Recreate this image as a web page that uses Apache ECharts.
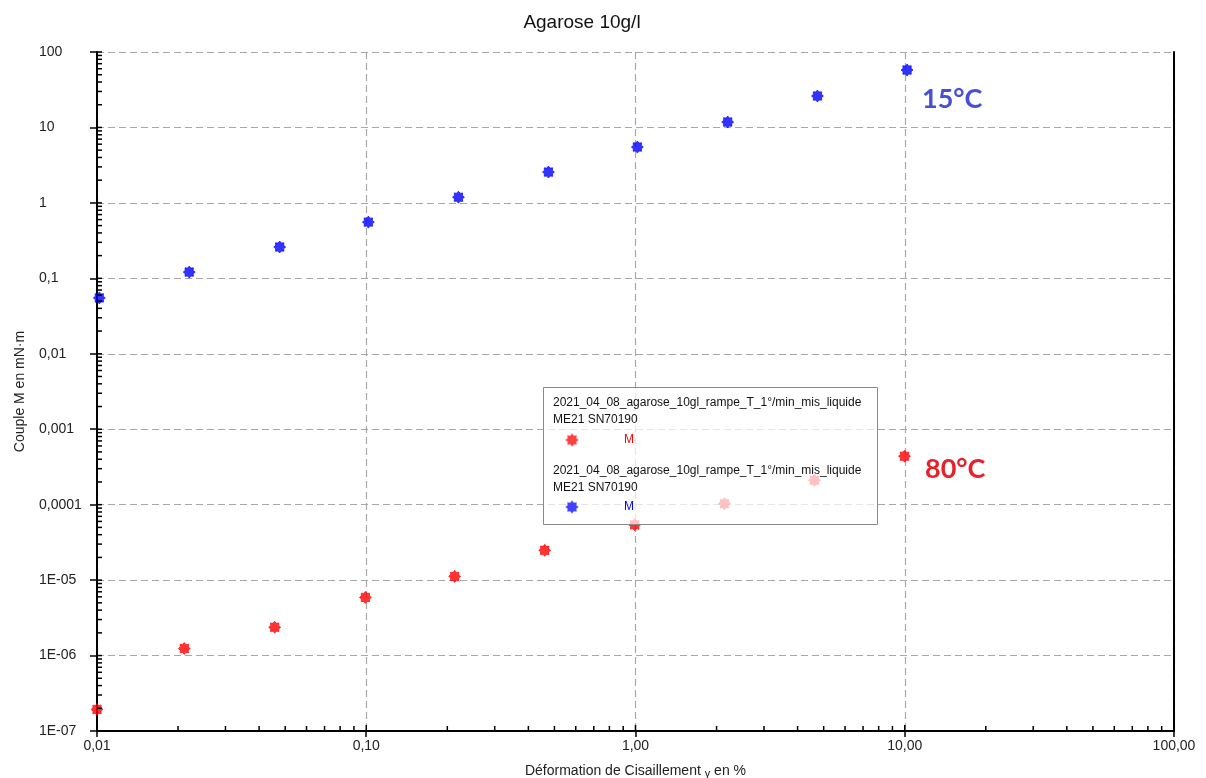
<!DOCTYPE html>
<html>
<head>
<meta charset="utf-8">
<script src="https://cdn.jsdelivr.net/npm/echarts@6/dist/echarts.min.js"></script>
<style>html,body{margin:0;padding:0;background:#fff}#c{width:1206px;height:778px}</style>
</head>
<body>
<div id="c"></div>
<script>
// ---- data ----
const strain15 = [0.0102, 0.022, 0.0477, 0.1018, 0.22, 0.475, 1.016, 2.2, 4.74, 10.2];
const torque15 = [0.055, 0.121, 0.26, 0.556, 1.19, 2.56, 5.5, 11.8, 26.1, 57.7];
const strain80 = [0.01, 0.0211, 0.0457, 0.0993, 0.213, 0.46, 0.993, 2.14, 4.62, 9.98];
const torque80 = [1.93e-7, 1.24e-6, 2.37e-6, 5.9e-6, 1.12e-5, 2.48e-5, 5.4e-5, 1.03e-4, 2.1e-4, 4.39e-4];
const xTickLabels = ['0,01', '0,10', '1,00', '10,00', '100,00'];   // 1e-2 .. 1e2
const yTickLabels = ['1E-07', '1E-06', '1E-05', '0,0001', '0,001', '0,01', '0,1', '1', '10', '100']; // 1e-7 .. 1e2
const legendName = '2021_04_08_agarose_10gl_rampe_T_1°/min_mis_liquide';
const legendSub = 'ME21 SN70190';

const X_MIN = 0.01, X_MAX = 100, Y_MIN = 1e-7, Y_MAX = 100;

function logTicks(minExp, maxExp) {
  const major = [], minor = [];
  for (let e = minExp; e <= maxExp; e++) {
    major.push(Math.pow(10, e));
    if (e < maxExp) for (let k = 2; k <= 9; k++) minor.push(k * Math.pow(10, e));
  }
  return { major, minor };
}
const xt = logTicks(-2, 2), yt = logTicks(-7, 2);

function starPoints(cx, cy, R) {
  const pts = [];
  for (let i = 0; i < 16; i++) {
    const a = i * Math.PI / 8 - Math.PI / 2;
    const r = i % 2 === 0 ? R : R * 0.72;
    pts.push([cx + r * Math.cos(a), cy + r * Math.sin(a)]);
  }
  return pts;
}
const STAR = 'path://' + starPoints(10, 10, 10).map((p, i) => (i ? 'L' : 'M') + p[0].toFixed(2) + ' ' + p[1].toFixed(2)).join(' ') + ' Z';

const FONT = 'Liberation Sans, Arial, sans-serif';
const chart = echarts.init(document.getElementById('c'));

function xLabel(v) { return xTickLabels[Math.round(Math.log10(v)) + 2] || ''; }
function yLabel(v) { return yTickLabels[Math.round(Math.log10(v)) + 7] || ''; }

function tickItemX(len) {
  return function (params, api) {
    const p = api.coord([api.value(0), Y_MIN]);
    return { type: 'line', shape: { x1: p[0], y1: p[1], x2: p[0], y2: p[1] - len },
      style: { stroke: '#000', lineWidth: 1.5 } };
  };
}
function tickItemY(len) {
  return function (params, api) {
    const p = api.coord([X_MIN, api.value(0)]);
    return { type: 'line', shape: { x1: p[0], y1: p[1], x2: p[0] + len, y2: p[1] },
      style: { stroke: '#000', lineWidth: 1.5 } };
  };
}

const LZ = 100;
const option = {
  backgroundColor: '#fff',
  animation: false,
  textStyle: { fontFamily: FONT },
  grid: { left: 97, right: 32, top: 52, bottom: 47, containLabel: false, outerBoundsMode: 'none' },
  xAxis: {
    type: 'log', logBase: 10, min: X_MIN, max: X_MAX, interval: 1,
    name: '{a|Déformation de Cisaillement }{g|γ}{a| en %}',
    nameLocation: 'middle', nameGap: 33,
    nameTextStyle: { rich: { a: { fontSize: 14, color: '#222', fontFamily: FONT }, g: { fontSize: 11, color: '#222', fontFamily: FONT, padding: [4, 0, 0, 0] } } },
    axisLine: { show: true, lineStyle: { color: '#000', width: 2 } },
    axisTick: { show: true, length: 6, lineStyle: { color: '#000', width: 1.5 } },
    axisLabel: { formatter: xLabel, color: '#222', fontSize: 14, margin: 8, fontFamily: FONT, showMaxLabel: true, showMinLabel: true },
    splitLine: { show: true, lineStyle: { color: '#a8a8a8', type: [7, 4], width: 1.2 } }
  },
  yAxis: [{
    type: 'log', logBase: 10, min: Y_MIN, max: Y_MAX, interval: 1, splitNumber: 9,
    name: 'Couple M en mN·m', nameLocation: 'middle', nameGap: 70,
    nameTextStyle: { fontSize: 14, color: '#222', fontFamily: FONT },
    axisLine: { show: true, lineStyle: { color: '#000', width: 2 } },
    axisTick: { show: true, length: 7, lineStyle: { color: '#000', width: 1.5 } },
    axisLabel: { formatter: yLabel, color: '#222', fontSize: 14, margin: 58, align: 'left', fontFamily: FONT, showMaxLabel: true, showMinLabel: true },
    splitLine: { show: true, lineStyle: { color: '#a8a8a8', type: [7, 4], width: 1.2 } }
  }, {
    type: 'log', logBase: 10, min: Y_MIN, max: Y_MAX, position: 'right',
    axisLine: { show: true, onZero: false, lineStyle: { color: '#000', width: 2 } },
    axisTick: { show: false }, axisLabel: { show: false }, splitLine: { show: false }
  }],
  title: {
    text: 'Agarose 10g/l', left: 577, top: 8, textAlign: 'center',
    textStyle: { fontSize: 19, fontWeight: 'normal', color: '#111', fontFamily: FONT }
  },
  series: [
    { type: 'custom', renderItem: tickItemX(5), data: xt.minor.map(v => [v]), clip: false, silent: true, z: 5 },
    { type: 'custom', renderItem: tickItemX(6), data: xt.major.map(v => [v]), clip: false, silent: true, z: 5 },
    { type: 'custom', renderItem: tickItemY(5), data: yt.minor.map(v => [v]), clip: false, silent: true, z: 5 },
    { type: 'custom', renderItem: tickItemY(5), data: yt.major.map(v => [v]), clip: false, silent: true, z: 5 },
    { name: '15°C', type: 'scatter', symbol: STAR, symbolSize: 12, itemStyle: { color: '#0000ff', borderColor: '#0000ff', borderWidth: 0.8 },
      data: strain15.map((x, i) => [x, torque15[i]]), z: 3 },
    { name: '80°C', type: 'scatter', symbol: STAR, symbolSize: 12, itemStyle: { color: '#ff0000', borderColor: '#ff0000', borderWidth: 0.8 },
      data: strain80.map((x, i) => [x, torque80[i]]), z: 3 }
  ],
  graphic: [
    { type: 'text', x: 922, y: 99, z: 10,
      style: { text: '15°C', fontSize: 27, fontWeight: 'bold', fill: '#4650d4', fontFamily: 'Lato, sans-serif', verticalAlign: 'middle', align: 'left' } },
    { type: 'text', x: 925, y: 469, z: 10,
      style: { text: '80°C', fontSize: 27, fontWeight: 'bold', fill: '#e8202a', fontFamily: 'Lato, sans-serif', verticalAlign: 'middle', align: 'left' } },
    { type: 'rect', z: LZ, shape: { x: 543.5, y: 387.5, width: 334, height: 137 },
      style: { fill: 'rgba(255,255,255,0.7)', stroke: '#8a8a8a', lineWidth: 1 } },
    { type: 'text', z: LZ + 1, x: 553, y: 403, style: { text: legendName, fontSize: 12, fill: '#111', fontFamily: FONT, verticalAlign: 'middle' } },
    { type: 'text', z: LZ + 1, x: 553, y: 420, style: { text: legendSub, fontSize: 12, fill: '#111', fontFamily: FONT, verticalAlign: 'middle' } },
    { type: 'polygon', z: LZ + 1, shape: { points: starPoints(572, 440, 6.5) },
      style: { fill: '#ff4040', stroke: '#ff9a9a', lineWidth: 0.6 } },
    { type: 'text', z: LZ + 1, x: 624, y: 440, style: { text: 'M', fontSize: 12, fill: '#ff0000', fontFamily: FONT, verticalAlign: 'middle' } },
    { type: 'text', z: LZ + 1, x: 553, y: 471, style: { text: legendName, fontSize: 12, fill: '#111', fontFamily: FONT, verticalAlign: 'middle' } },
    { type: 'text', z: LZ + 1, x: 553, y: 488, style: { text: legendSub, fontSize: 12, fill: '#111', fontFamily: FONT, verticalAlign: 'middle' } },
    { type: 'polygon', z: LZ + 1, shape: { points: starPoints(572, 507, 6.5) },
      style: { fill: '#4040ff', stroke: '#9a9aff', lineWidth: 0.6 } },
    { type: 'text', z: LZ + 1, x: 624, y: 507, style: { text: 'M', fontSize: 12, fill: '#0000ff', fontFamily: FONT, verticalAlign: 'middle' } }
  ]
};
chart.setOption(option);
</script>
</body>
</html>
